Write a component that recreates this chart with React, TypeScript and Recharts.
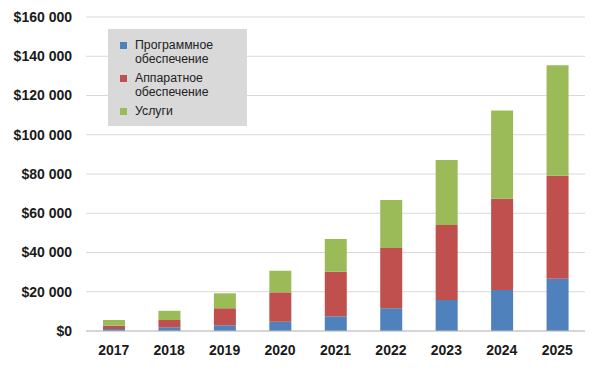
import React from "react"
import {
  BarChart,
  Bar,
  XAxis,
  YAxis,
  CartesianGrid,
} from "recharts"

const years = ["2017", "2018", "2019", "2020", "2021", "2022", "2023", "2024", "2025"]
const software = [1000, 1900, 2900, 4700, 7500, 11600, 15800, 20900, 26600]
const hardware = [1700, 3700, 8700, 15000, 22700, 30700, 38200, 46500, 52500]
const services = [2900, 4700, 7600, 11000, 16700, 24500, 33100, 44900, 56300]
const yTicks = [0, 20000, 40000, 60000, 80000, 100000, 120000, 140000, 160000]

const series = [
  { key: "software", name: "Программное обеспечение", lines: ["Программное", "обеспечение"], color: "#4F81BD" },
  { key: "hardware", name: "Аппаратное обеспечение", lines: ["Аппаратное", "обеспечение"], color: "#C0504D" },
  { key: "services", name: "Услуги", lines: ["Услуги"], color: "#9BBB59" },
]

const data = years.map((year, i) => ({
  year,
  software: software[i],
  hardware: hardware[i],
  services: services[i],
}))

const formatMoney = (v: number) =>
  "$" + String(v).replace(/\B(?=(\d{3})+(?!\d))/g, " ")

const LegendBox = () => (
  <div
    style={{
      position: "absolute",
      left: 108,
      top: 29,
      background: "#D9D9D9",
      width: 139,
      height: 97,
      boxSizing: "border-box",
      padding: "9px 0 0 12px",
      fontFamily: "'Liberation Sans', Arial, sans-serif",
      fontSize: 12.3,
      lineHeight: "14px",
      color: "#222",
    }}
  >
    {series.map((s) => (
      <div key={s.key} style={{ display: "flex", marginBottom: 5 }}>
        <div
          style={{
            width: 7,
            height: 7,
            background: s.color,
            marginTop: 4,
            marginRight: 8,
            flexShrink: 0,
          }}
        />
        <div>
          {s.lines.map((l, j) => (
            <div key={j}>{l}</div>
          ))}
        </div>
      </div>
    ))}
  </div>
)

export default function App() {
  const tickStyle = {
    fill: "#1a1a1a",
    fontSize: 14,
    fontWeight: "bold" as const,
    fontFamily: "'Liberation Sans', Arial, sans-serif",
  }
  return (
    <div style={{ position: "absolute", left: 0, top: 0, width: 600, height: 368, background: "#fff" }}>
      <BarChart
        width={600}
        height={368}
        data={data}
        margin={{ top: 17, right: 15, left: 0, bottom: 0 }}
        barSize={22}
      >
        <CartesianGrid vertical={false} stroke="#D9D9D9" />
        <XAxis
          dataKey="year"
          tickLine={false}
          axisLine={{ stroke: "#BFBFBF" }}
          tick={tickStyle}
          tickMargin={8}
          height={37}
        />
        <YAxis
          width={86}
          domain={[0, 160000]}
          ticks={yTicks}
          tickFormatter={formatMoney}
          tickLine={false}
          axisLine={false}
          tick={tickStyle}
          tickMargin={8}
        />
        {series.map((s) => (
          <Bar
            key={s.key}
            dataKey={s.key}
            name={s.name}
            stackId="a"
            fill={s.color}
            isAnimationActive={false}
          />
        ))}
      </BarChart>
      <LegendBox />
    </div>
  )
}
